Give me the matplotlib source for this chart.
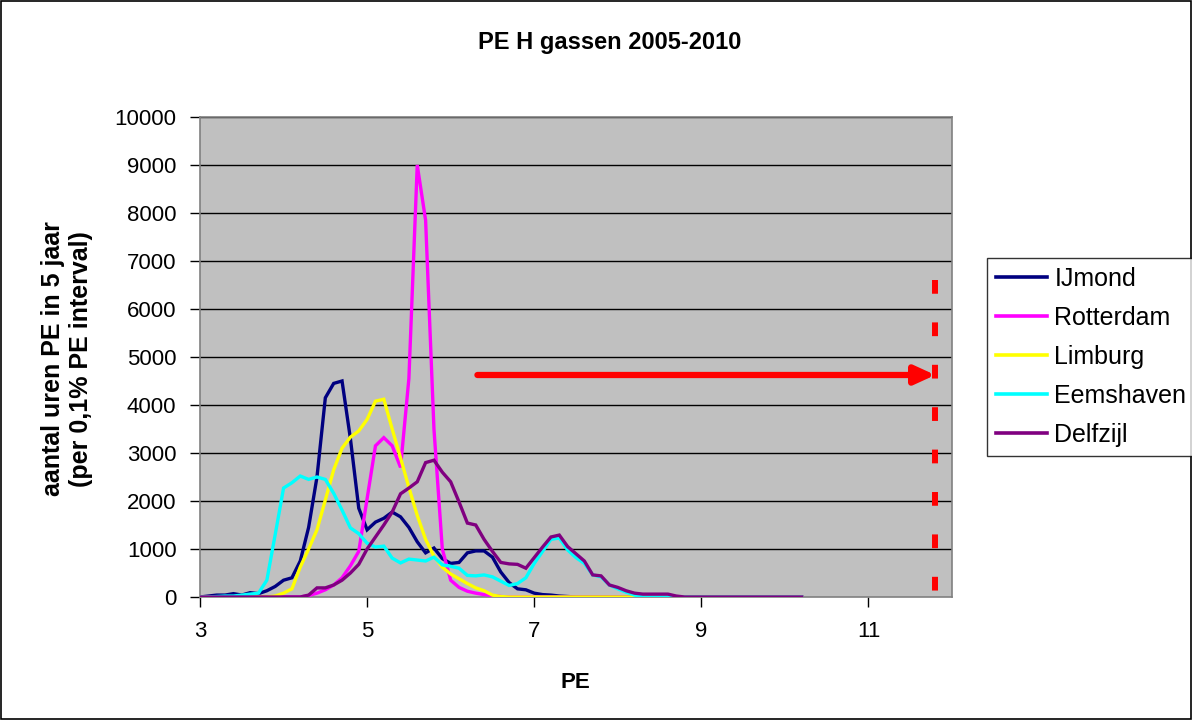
import numpy as np
import matplotlib
matplotlib.use("Agg")
import matplotlib.pyplot as plt
from matplotlib.patches import Rectangle

plt.rcParams['font.family'] = ['Liberation Sans', 'DejaVu Sans']

# PE grid (0.1 steps, 3.0 .. 10.2)
pe = np.round(np.arange(30, 103) / 10.0, 1)

ijmond = [0, 20, 40, 40, 70, 40, 90, 70, 130, 220,
          350, 400, 750, 1450, 2500, 4150, 4450, 4500, 3300, 1850,
          1400, 1560, 1640, 1770, 1670, 1450, 1150, 920, 1020, 800,
          700, 720, 920, 960, 960, 830, 520, 300, 170, 150,
          80, 50, 40, 20, 10] + [0] * 28
rotterdam = [0] * 13 + [30, 80, 150, 250, 400, 650, 950,
             2050, 3150, 3320, 3150, 2700, 4550, 9000, 7850, 3500, 1000,
             350, 200, 120, 80, 50, 30, 10] + [0] * 36
limburg = [0] * 9 + [20,
           80, 170, 625, 1000, 1400, 2020, 2650, 3100, 3330, 3460,
           3700, 4080, 4120, 3500, 2900, 2280, 1700, 1200, 850, 620,
           480, 380, 280, 190, 130, 40, 10] + [0] * 36
eemshaven = [0, 0, 10, 20, 20, 40, 60, 80, 350, 1300,
             2270, 2380, 2520, 2450, 2500, 2450, 2160, 1810, 1440, 1320,
             1120, 1040, 1060, 810, 710, 790, 770, 750, 830, 670,
             640, 600, 450, 440, 460, 420, 330, 240, 280, 400,
             700, 950, 1200, 1230, 980, 820, 700, 460, 420, 250,
             170, 100, 40] + [0] * 20
delfzijl = [0] * 13 + [40, 190, 190, 250, 350, 500, 680,
            1000, 1250, 1500, 1770, 2150, 2270, 2400, 2800, 2850, 2600,
            2400, 1980, 1540, 1500, 1200, 950, 720, 690, 680, 600,
            820, 1040, 1250, 1290, 1050, 900, 750, 460, 440, 250,
            200, 130, 80, 60, 60, 60, 60, 20] + [0] * 15

series = [("IJmond", ijmond, "#000080"),
          ("Rotterdam", rotterdam, "#FF00FF"),
          ("Limburg", limburg, "#FFFF00"),
          ("Eemshaven", eemshaven, "#00FFFF"),
          ("Delfzijl", delfzijl, "#800080")]

arrow_y = 4625
arrow_x0, arrow_x1 = 6.32, 11.8
vline_x, vline_top = 11.8, 6600

fig = plt.figure(figsize=(11.92, 7.2), dpi=100)
fig.patch.set_facecolor("white")
fig.patches.append(Rectangle((0.001, 0.001), 0.998, 0.997, transform=fig.transFigure,
                             fill=False, edgecolor="black", lw=1.2))

ax = fig.add_axes([200 / 1192, 1 - 597 / 720, 752 / 1192, 480 / 720])
ax.set_facecolor("#C0C0C0")

for y in range(1000, 10001, 1000):
    ax.axhline(y, color="black", lw=1.0, zorder=1)

for name, vals, col in series:
    ax.plot(pe, vals, color=col, lw=2.4, label=name, zorder=3, solid_joinstyle="miter")

ax.annotate("", xy=(arrow_x1, arrow_y), xytext=(arrow_x0, arrow_y),
            arrowprops=dict(arrowstyle="-|>,head_length=1.2,head_width=0.55",
                            color="#FF0000", lw=4.5, shrinkA=0, shrinkB=0),
            zorder=5)
ax.plot([vline_x, vline_x], [vline_top, 0], color="#FF0000", lw=4.3,
        dashes=(2.3, 4.8), zorder=5, solid_capstyle="butt", dash_capstyle="butt")

ax.set_xlim(3, 12)
ax.set_ylim(0, 10000)
ax.set_xticks([3, 5, 7, 9, 11])
ax.set_yticks(range(0, 10001, 1000))
ax.tick_params(axis="both", direction="out", length=7, width=1, colors="black",
               labelsize=16)
ax.tick_params(axis="y", pad=10)
ax.tick_params(axis="x", pad=10)
for s in ax.spines.values():
    s.set_color("#808080")
    s.set_linewidth(1.2)

fig.text(610 / 1192, 1 - 42 / 720, "PE H gassen 2005-2010", ha="center", va="center",
         fontsize=17, fontweight="bold")
fig.text(575 / 1192, 1 - 683 / 720, "PE", ha="center", va="center",
         fontsize=16, fontweight="bold")
fig.text(67 / 1192, 1 - 359 / 720, "aantal uren PE in 5 jaar\n(per 0,1% PE interval)",
         ha="center", va="center", rotation=90, fontsize=18, fontweight="bold",
         linespacing=1.25)

leg = fig.legend(loc="upper left", bbox_to_anchor=(987 / 1192, 1 - 258 / 720),
                 fontsize=18, frameon=True, fancybox=False, handlelength=2.05,
                 handletextpad=0.3, labelspacing=0.6, borderpad=0.35,
                 borderaxespad=0)
leg.get_frame().set_edgecolor("black")
leg.get_frame().set_linewidth(1.0)
for h in leg.get_lines():
    h.set_linewidth(2.6)

fig.savefig("out.png", dpi=100)
